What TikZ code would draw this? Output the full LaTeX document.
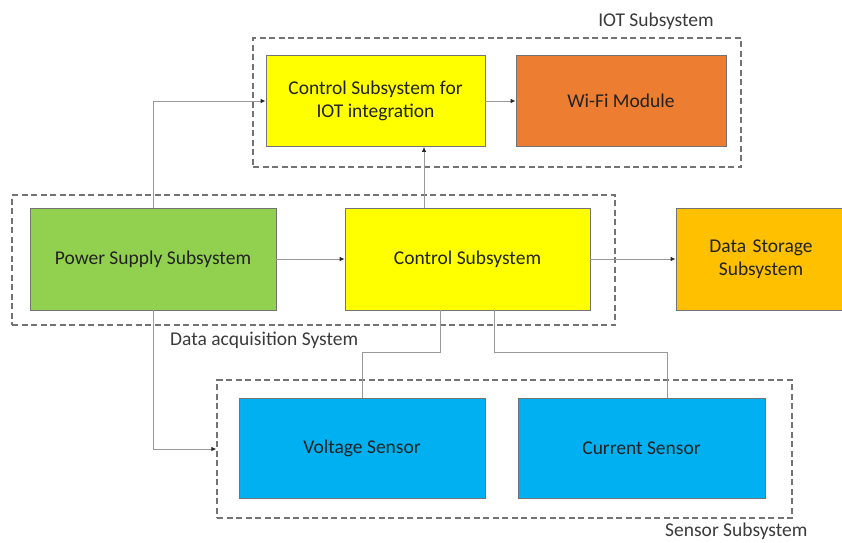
\documentclass[tikz,border=0pt]{standalone}
\usepackage{fontspec}
\setmainfont{Carlito}
\usetikzlibrary{arrows.meta}
\definecolor{cyel}{HTML}{FFFF00}
\definecolor{corg}{HTML}{ED7D31}
\definecolor{cgrn}{HTML}{92D050}
\definecolor{camb}{HTML}{FFC000}
\definecolor{cblu}{HTML}{00B0F0}
\definecolor{ctxt}{HTML}{222222}
\definecolor{clbl}{HTML}{3A3A3A}
\begin{document}
\begin{tikzpicture}[x=1pt,y=-1pt,
  box/.style={draw=black!55, line width=0.8pt, rectangle, inner sep=0pt, align=center,
    text=ctxt, font=\fontsize{19.5}{23}\selectfont},
  grp/.style={draw=black!55, dashed, dash pattern=on 6pt off 3.5pt, line width=1.3pt, rectangle, inner sep=0pt},
  lbl/.style={text=clbl, font=\fontsize{19.5}{23}\selectfont, inner sep=0pt},
  conn/.style={draw=black!40, line width=0.9pt},
  arr/.style={conn, -{Latex[length=5pt,width=4.5pt,color=black!85]}}]
\useasboundingbox (0,0) rectangle (842,542);
% groups
\node[grp, minimum width=488, minimum height=129] (iotg) at (497,102.5) {};
\node[grp, minimum width=603, minimum height=130] (daq) at (313.5,260) {};
\node[grp, minimum width=575, minimum height=138] (sens) at (504.5,449) {};
% group labels
\node[lbl] (liot) at (656,21) {IOT Subsystem};
\node[lbl, anchor=west] (ldaq) at (170,340) {Data acquisition System};
\node[lbl, anchor=west] (lsen) at (665,531) {Sensor Subsystem};
% boxes
\node[box, fill=cyel, minimum width=219, minimum height=91] (iotc) at (375.5,101) {Control Subsystem for\\IOT integration};
\node[box, fill=corg, minimum width=210, minimum height=91] (wifi) at (621,101) {Wi-Fi Module};
\node[box, fill=cgrn, minimum width=246, minimum height=102] (pw) at (153,259) {Power Supply Subsystem};
\node[box, fill=cyel, minimum width=245, minimum height=102] (ctl) at (467.5,259) {Control Subsystem};
\node[box, fill=camb, minimum width=170, minimum height=102, text width=150] (ds) at (761,259) {Data Storage\\Subsystem};
\node[box, fill=cblu, minimum width=246, minimum height=100] (vs) at (362,448) {Voltage Sensor};
\node[box, fill=cblu, minimum width=247, minimum height=100] (cs) at (641.5,448) {Current Sensor};
% helper coordinates
\coordinate (c1) at (424,0);
\coordinate (c2) at (440,352);
\coordinate (c3) at (494,352);
\coordinate (c4) at (667,352);
% connectors
\draw[arr] (pw.north) |- (iotc.west);
\draw[arr] (pw.south) |- (sens.west);
\draw[arr] (pw.east) -- (ctl.west);
\draw[arr] (ctl.east) -- (ds.west);
\draw[arr] (iotc.east) -- (wifi.west);
\draw[arr] (ctl.north -| c1) -- (iotc.south -| c1);
\draw[conn] (ctl.south -| c2) -- (c2) -| (vs.north);
\draw[conn] (ctl.south -| c3) -- (c3) -- (c4) -- (vs.north -| c4);
\end{tikzpicture}
\end{document}
